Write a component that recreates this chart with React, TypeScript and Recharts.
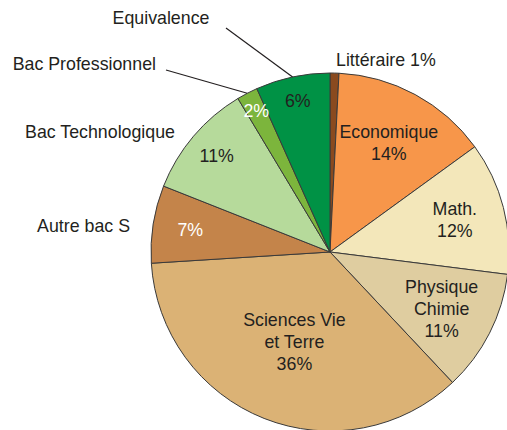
import React from 'react'
import { PieChart, Pie, Cell } from 'recharts'

// slices clockwise from the top
const categories = [
  'Littéraire',
  'Economique',
  'Math.',
  'Physique Chimie',
  'Sciences Vie et Terre',
  'Autre bac S',
  'Bac Technologique',
  'Bac Professionnel',
  'Equivalence',
]
const shares = [0.8, 14.2, 12, 11, 36, 7, 10.4, 1.9, 6.7]
const percentLabels = ['1%', '14%', '12%', '11%', '36%', '7%', '11%', '2%', '6%']

const colors = ['#8a4a1f', '#f7964a', '#f3e7ba', '#dfcda0', '#dbb275', '#c4844a', '#b6da9b', '#7cb53c', '#009245']

// how each label is drawn: inside text lines at a radius ratio, or an outside name
type Layout =
  | { inside: true; lines: string[]; r: number; white?: boolean }
  | { inside: false; text: string; dx: number; dy: number; anchor: 'start' | 'end' }

const layouts: Layout[] = [
  { inside: false, text: categories[0] + ' ' + percentLabels[0], dx: 6, dy: -192, anchor: 'start' },
  { inside: true, lines: ['Economique', percentLabels[1]], r: 0.69 },
  { inside: true, lines: ['Math.', percentLabels[2]], r: 0.72 },
  { inside: true, lines: ['Physique', 'Chimie', percentLabels[3]], r: 0.7 },
  { inside: true, lines: ['Sciences Vie', 'et Terre', percentLabels[4]], r: 0.54 },
  { inside: true, lines: [percentLabels[5]], r: 0.79, white: true },
  { inside: true, lines: [percentLabels[6]], r: 0.83 },
  { inside: true, lines: [percentLabels[7]], r: 0.89, white: true },
  { inside: true, lines: [percentLabels[8]], r: 0.86 },
]
// outside names for the small slices on the left
const outside = [
  { index: 8, dx: -169, dy: -234, anchor: 'middle', leader: [-104, -224] },
  { index: 7, dx: -174, dy: -188, anchor: 'end', leader: [-164, -182] },
  { index: 6, dx: -155, dy: -120, anchor: 'end' },
  { index: 5, dx: -200, dy: -26, anchor: 'end' },
]

const data = categories.map((name, i) => ({ name, value: shares[i] }))

const RAD = Math.PI / 180
const font = '"Liberation Sans", Arial, sans-serif'
const textColor = '#231f20'
const fontSize = 17.8

function renderLabel(props: any) {
  const { cx, cy, midAngle, outerRadius, index } = props
  const lay = layouts[index]
  const cos = Math.cos(-midAngle * RAD)
  const sin = Math.sin(-midAngle * RAD)
  const parts: React.ReactNode[] = []

  if (lay.inside) {
    const x = cx + outerRadius * lay.r * cos
    const y = cy + outerRadius * lay.r * sin
    const n = lay.lines.length
    lay.lines.forEach((line, i) => {
      parts.push(
        <text
          key={'l' + i}
          x={x}
          y={y + (i - (n - 1) / 2) * 22}
          textAnchor="middle"
          dominantBaseline="central"
          fill={lay.white ? '#ffffff' : textColor}
          fontSize={fontSize}
          fontFamily={font}
        >
          {line}
        </text>
      )
    })
  } else {
    parts.push(
      <text
        key="o"
        x={cx + lay.dx}
        y={cy + lay.dy}
        textAnchor={lay.anchor}
        dominantBaseline="central"
        fill={textColor}
        fontSize={fontSize}
        fontFamily={font}
      >
        {lay.text}
      </text>
    )
  }

  outside
    .filter((o) => o.index === index)
    .forEach((o, k) => {
      parts.push(
        <text
          key={'n' + k}
          x={cx + o.dx}
          y={cy + o.dy}
          textAnchor={o.anchor as any}
          dominantBaseline="central"
          fill={textColor}
          fontSize={fontSize}
          fontFamily={font}
        >
          {categories[index]}
        </text>
      )
      if (o.leader) {
        parts.push(
          <line
            key={'ln' + k}
            x1={cx + o.leader[0]}
            y1={cy + o.leader[1]}
            x2={cx + outerRadius * cos}
            y2={cy + outerRadius * sin}
            stroke="#231f20"
            strokeWidth={1.2}
          />
        )
      }
    })

  return <g>{parts}</g>
}

export default function App() {
  return (
    <div style={{ position: 'absolute', left: 0, top: 0, background: '#fff' }}>
      <PieChart width={507} height={430} margin={{ top: 0, right: 0, bottom: 0, left: 0 }}>
        <Pie
          data={data}
          dataKey="value"
          nameKey="name"
          cx={330}
          cy={252}
          outerRadius={179}
          startAngle={90}
          endAngle={-270}
          stroke="#3a3a3a"
          strokeWidth={1}
          label={renderLabel}
          labelLine={false}
          isAnimationActive={false}
        >
          {data.map((d, i) => (
            <Cell key={d.name} fill={colors[i]} />
          ))}
        </Pie>
      </PieChart>
    </div>
  )
}
